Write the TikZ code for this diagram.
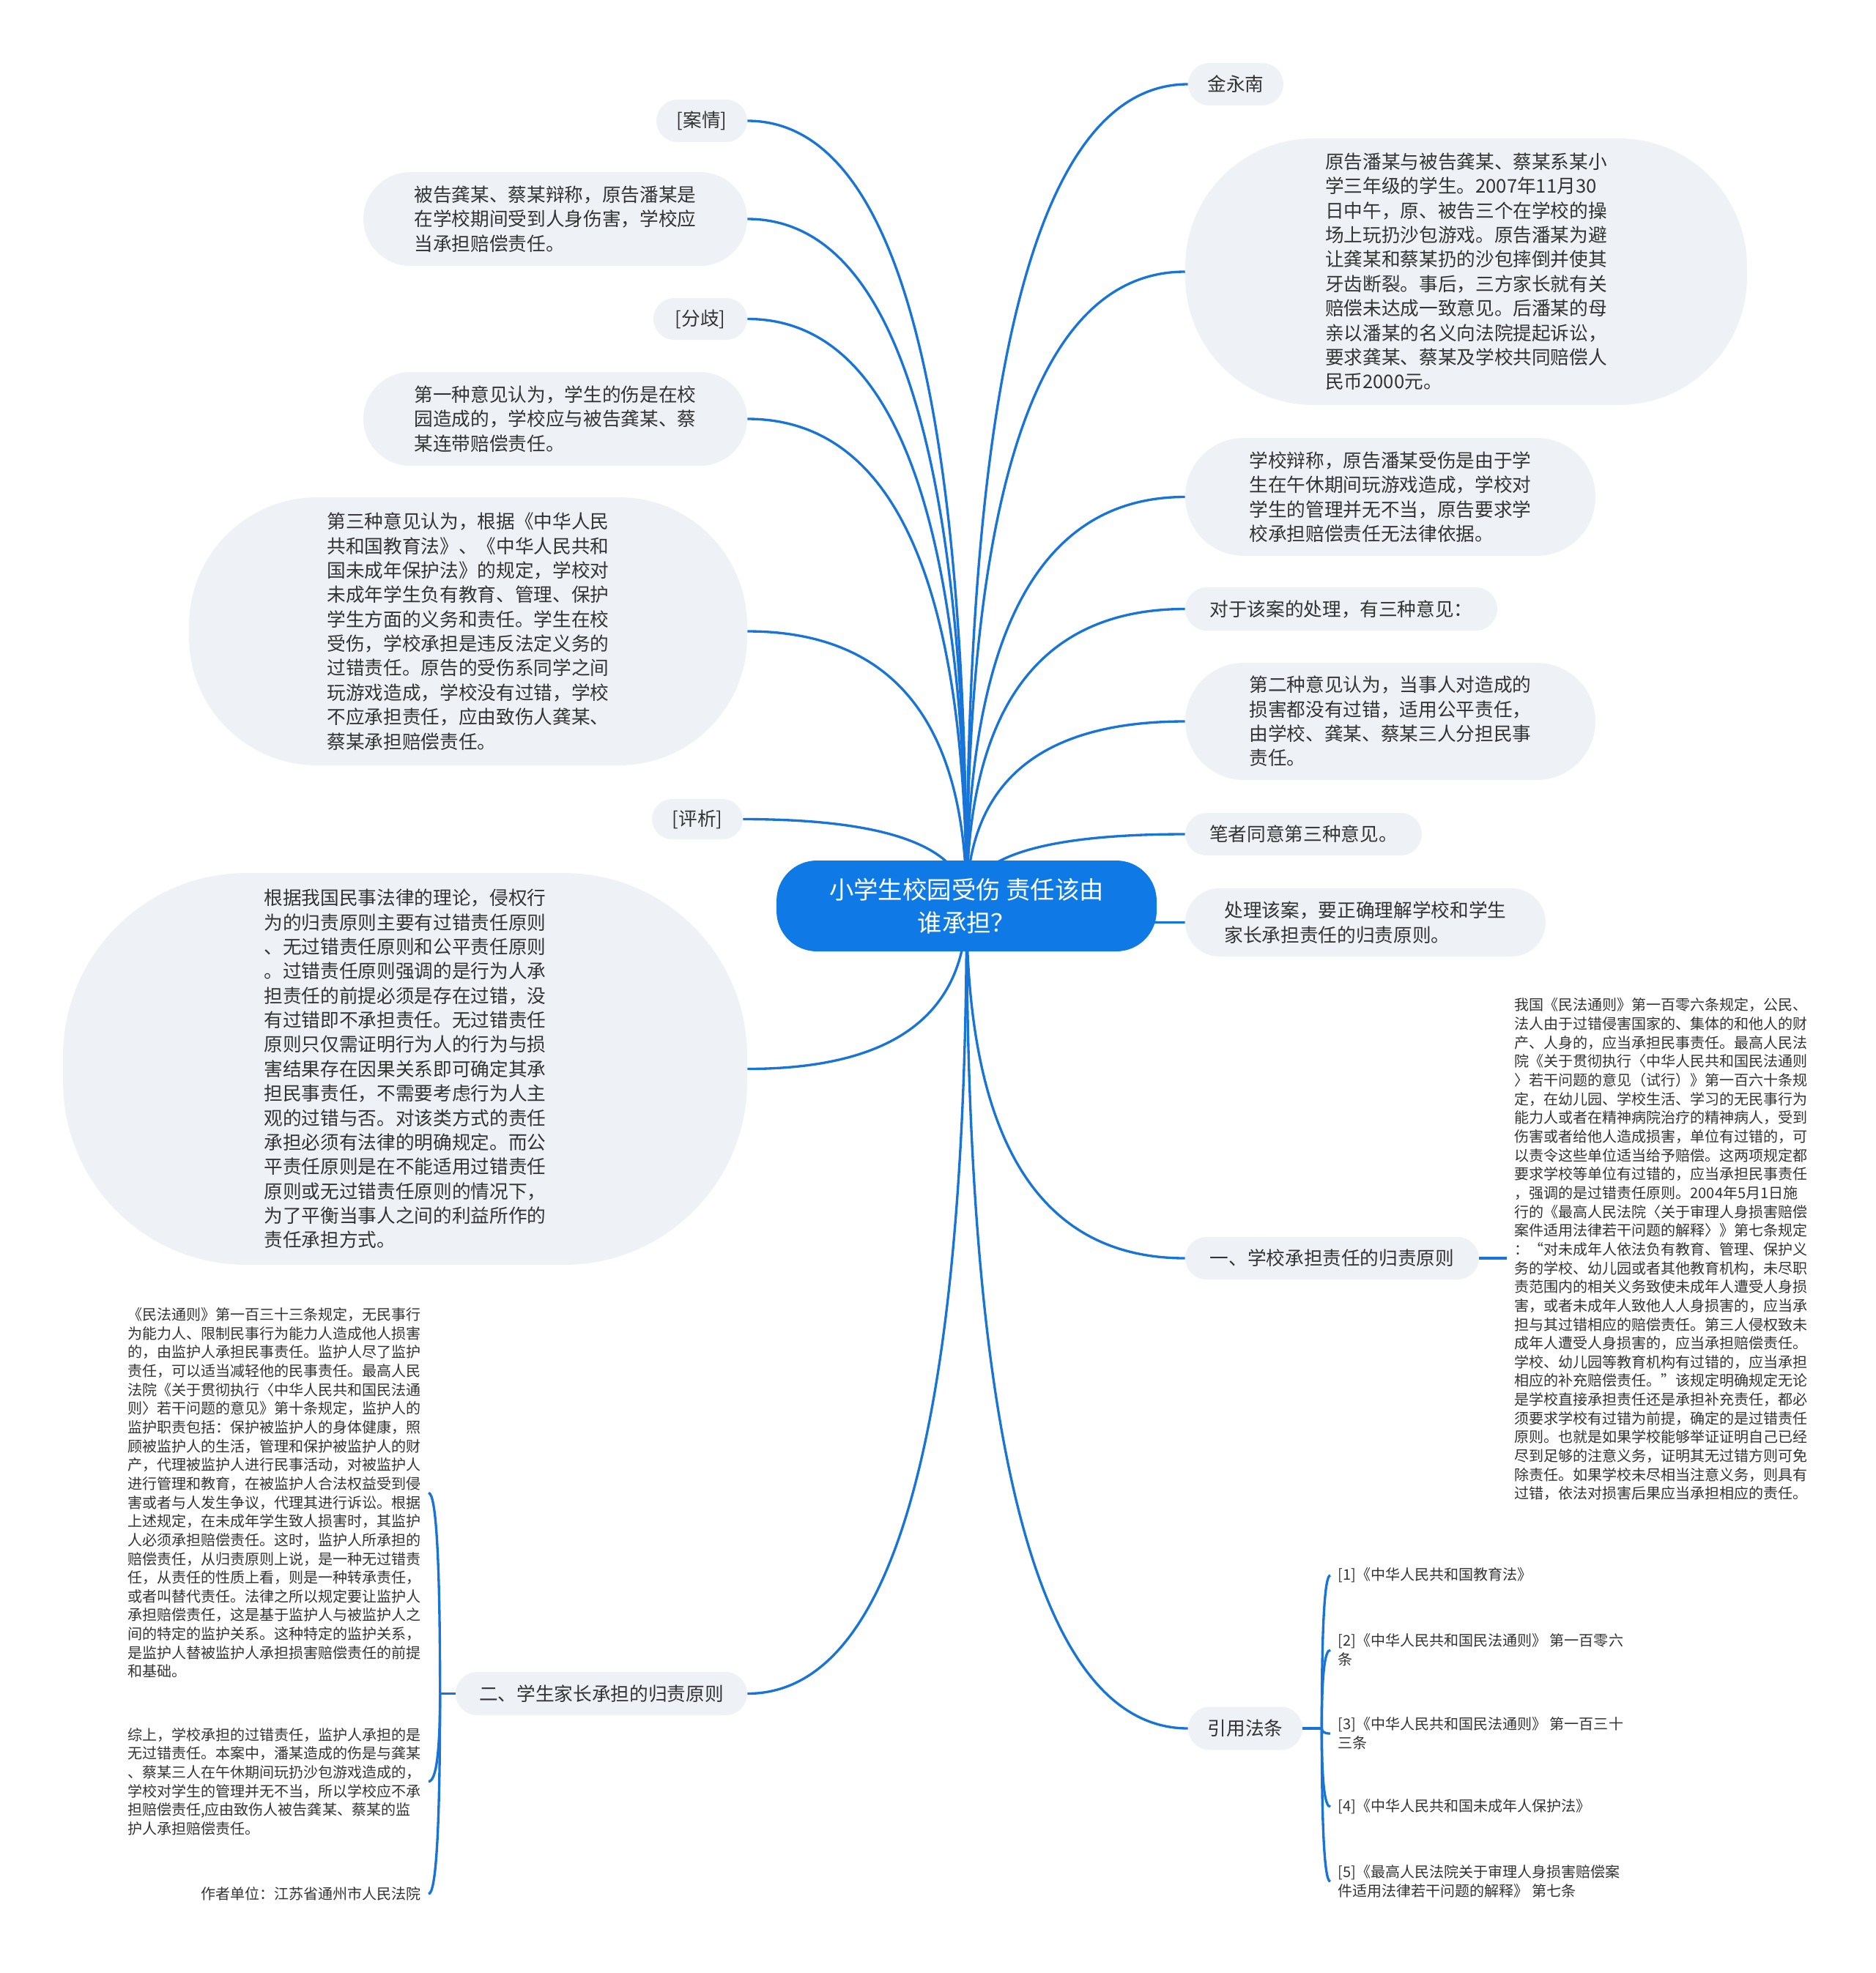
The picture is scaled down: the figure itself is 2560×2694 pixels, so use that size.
\documentclass[tikz,border=0pt]{standalone}
\usepackage{fontspec}
\setmainfont{Noto Sans CJK SC}
\usetikzlibrary{calc,backgrounds}
\definecolor{mapblue}{HTML}{0F7AE5}
\definecolor{linkblue}{HTML}{1874D6}
\definecolor{topicgray}{HTML}{EEF1F5}
\definecolor{ink}{HTML}{333333}
\tikzset{
  box/.style n args={3}{fill=topicgray, text=ink, align=left, inner sep=0pt,
    minimum width=#1, minimum height=#2, rounded corners=#3,
    font=\fontsize{14.6pt}{19pt}\selectfont},
  memo/.style={text=ink, align=left, inner ysep=0pt, inner xsep=0.2cm,
    font=\fontsize{11.4pt}{14.6pt}\selectfont},
  link/.style={draw=linkblue, line width=1.9pt},
}
% quadratic bend from #1 to #2, turning at (#1 |- #2)
\newcommand\bough[2]{\draw [link] (#1) .. controls ($(#1)!2/3!(#1 |- #2)$) and ($(#2)!2/3!(#1 |- #2)$) .. (#2);}
\begin{document}
\begin{tikzpicture}[x=0.02cm, y=-0.02cm]
	\useasboundingbox (0,0) rectangle (2560,2694);
	% central topic
	\node [box={10.38cm}{2.48cm}{1.1cm}, fill=mapblue, text=white, align=center,
	  font=\fontsize{19pt}{25.4pt}\selectfont] (c) at (1319.5,1237) {小学生校园受伤 责任该由\\谁承担？};
	% right branches
	\node [box={2.6cm}{1.16cm}{0.58cm}] (r1) at (1687,115) {金永南};
	\node [box={15.34cm}{7.28cm}{3.5cm}] (r2) at (2001.5,371) {原告潘某与被告龚某、蔡某系某小\\学三年级的学生。2007年11月30\\日中午，原、被告三个在学校的操\\场上玩扔沙包游戏。原告潘某为避\\让龚某和蔡某扔的沙包摔倒并使其\\牙齿断裂。事后，三方家长就有关\\赔偿未达成一致意见。后潘某的母\\亲以潘某的名义向法院提起诉讼，\\要求龚某、蔡某及学校共同赔偿人\\民币2000元。};
	\node [box={11.2cm}{3.22cm}{1.6cm}] (r3) at (1898,678.5) {学校辩称，原告潘某受伤是由于学\\生在午休期间玩游戏造成，学校对\\学生的管理并无不当，原告要求学\\校承担赔偿责任无法律依据。};
	\node [box={8.52cm}{1.18cm}{0.59cm}] (r4) at (1831,831.5) {对于该案的处理，有三种意见：};
	\node [box={11.2cm}{3.2cm}{1.6cm}] (r5) at (1898,985) {第二种意见认为，当事人对造成的\\损害都没有过错，适用公平责任，\\由学校、龚某、蔡某三人分担民事\\责任。};
	\node [box={6.46cm}{1.16cm}{0.58cm}] (r6) at (1779.5,1139) {笔者同意第三种意见。};
	\node [box={9.84cm}{1.86cm}{0.93cm}] (r7) at (1864,1259.5) {处理该案，要正确理解学校和学生\\家长承担责任的归责原则。};
	\node [box={8.02cm}{1.16cm}{0.58cm}] (r8) at (1818.5,1718) {一、学校承担责任的归责原则};
	\node [box={3.12cm}{1.18cm}{0.59cm}] (r9) at (1700,2360) {引用法条};
	% left branches
	\node [box={2.48cm}{1.16cm}{0.58cm}] (l1) at (958,165) {[案情]};
	\node [box={10.48cm}{2.56cm}{1.28cm}] (l2) at (758,299) {被告龚某、蔡某辩称，原告潘某是\\在学校期间受到人身伤害，学校应\\当承担赔偿责任。};
	\node [box={2.56cm}{1.14cm}{0.57cm}] (l3) at (956,435.5) {[分歧]};
	\node [box={10.48cm}{2.56cm}{1.28cm}] (l4) at (758,572) {第一种意见认为，学生的伤是在校\\园造成的，学校应与被告龚某、蔡\\某连带赔偿责任。};
	\node [box={15.24cm}{7.32cm}{3.5cm}] (l5) at (639,862) {第三种意见认为，根据《中华人民\\共和国教育法》、《中华人民共和\\国未成年保护法》的规定，学校对\\未成年学生负有教育、管理、保护\\学生方面的义务和责任。学生在校\\受伤，学校承担是违反法定义务的\\过错责任。原告的受伤系同学之间\\玩游戏造成，学校没有过错，学校\\不应承担责任，应由致伤人龚某、\\蔡某承担赔偿责任。};
	\node [box={2.48cm}{1.1cm}{0.55cm}] (l6) at (952,1118.5) {[评析]};
	\node [box={18.68cm}{10.7cm}{5cm}] (l7) at (553,1459.5) {根据我国民事法律的理论，侵权行\\为的归责原则主要有过错责任原则\\、无过错责任原则和公平责任原则\\。过错责任原则强调的是行为人承\\担责任的前提必须是存在过错，没\\有过错即不承担责任。无过错责任\\原则只仅需证明行为人的行为与损\\害结果存在因果关系即可确定其承\\担民事责任，不需要考虑行为人主\\观的过错与否。对该类方式的责任\\承担必须有法律的明确规定。而公\\平责任原则是在不能适用过错责任\\原则或无过错责任原则的情况下，\\为了平衡当事人之间的利益所作的\\责任承担方式。};
	\node [box={7.96cm}{1.18cm}{0.59cm}] (l8) at (821,2312.5) {二、学生家长承担的归责原则};
	% notes
	\node [memo, anchor=west] (t8) at (2057,1706) {我国《民法通则》第一百零六条规定，公民、\\法人由于过错侵害国家的、集体的和他人的财\\产、人身的，应当承担民事责任。最高人民法\\院《关于贯彻执行〈中华人民共和国民法通则\\〉若干问题的意见（试行）》第一百六十条规\\定，在幼儿园、学校生活、学习的无民事行为\\能力人或者在精神病院治疗的精神病人，受到\\伤害或者给他人造成损害，单位有过错的，可\\以责令这些单位适当给予赔偿。这两项规定都\\要求学校等单位有过错的，应当承担民事责任\\，强调的是过错责任原则。2004年5月1日施\\行的《最高人民法院〈关于审理人身损害赔偿\\案件适用法律若干问题的解释〉》第七条规定\\：“对未成年人依法负有教育、管理、保护义\\务的学校、幼儿园或者其他教育机构，未尽职\\责范围内的相关义务致使未成年人遭受人身损\\害，或者未成年人致他人人身损害的，应当承\\担与其过错相应的赔偿责任。第三人侵权致未\\成年人遭受人身损害的，应当承担赔偿责任。\\学校、幼儿园等教育机构有过错的，应当承担\\相应的补充赔偿责任。”该规定明确规定无论\\是学校直接承担责任还是承担补充责任，都必\\须要求学校有过错为前提，确定的是过错责任\\原则。也就是如果学校能够举证证明自己已经\\尽到足够的注意义务，证明其无过错方则可免\\除责任。如果学校未尽相当注意义务，则具有\\过错，依法对损害后果应当承担相应的责任。};
	\node [memo, anchor=west] (f1) at (1816,2151) {[1]《中华人民共和国教育法》};
	\node [memo, anchor=west] (f2) at (1816,2253) {[2]《中华人民共和国民法通则》 第一百零六\\条};
	\node [memo, anchor=west] (f3) at (1816,2367) {[3]《中华人民共和国民法通则》 第一百三十\\三条};
	\node [memo, anchor=west] (f4) at (1816,2467) {[4]《中华人民共和国未成年人保护法》};
	\node [memo, anchor=west] (f5) at (1816,2569) {[5]《最高人民法院关于审理人身损害赔偿案\\件适用法律若干问题的解释》 第七条};
	\node [memo, anchor=east] (t81) at (585,2038.5) {《民法通则》第一百三十三条规定，无民事行\\为能力人、限制民事行为能力人造成他人损害\\的，由监护人承担民事责任。监护人尽了监护\\责任，可以适当减轻他的民事责任。最高人民\\法院《关于贯彻执行〈中华人民共和国民法通\\则〉若干问题的意见》第十条规定，监护人的\\监护职责包括：保护被监护人的身体健康，照\\顾被监护人的生活，管理和保护被监护人的财\\产，代理被监护人进行民事活动，对被监护人\\进行管理和教育，在被监护人合法权益受到侵\\害或者与人发生争议，代理其进行诉讼。根据\\上述规定，在未成年学生致人损害时，其监护\\人必须承担赔偿责任。这时，监护人所承担的\\赔偿责任，从归责原则上说，是一种无过错责\\任，从责任的性质上看，则是一种转承责任，\\或者叫替代责任。法律之所以规定要让监护人\\承担赔偿责任，这是基于监护人与被监护人之\\间的特定的监护关系。这种特定的监护关系，\\是监护人替被监护人承担损害赔偿责任的前提\\和基础。};
	\node [memo, anchor=east] (t82) at (585,2432.5) {综上，学校承担的过错责任，监护人承担的是\\无过错责任。本案中，潘某造成的伤是与龚某\\、蔡某三人在午休期间玩扔沙包游戏造成的，\\学校对学生的管理并无不当，所以学校应不承\\担赔偿责任,应由致伤人被告龚某、蔡某的监\\护人承担赔偿责任。};
	\node [memo, anchor=east] (t83) at (585,2586) {作者单位：江苏省通州市人民法院};
	% connectors, behind the topics
	\begin{scope}[on background layer]
	\foreach \n in {r1,r2,r3,r4,r5,r6,r7,r8,r9}
	  {\bough{c.center}{\n.west}}
	\foreach \n in {l1,l2,l3,l4,l5,l6,l7,l8}
	  {\bough{c.center}{\n.east}}
	\draw [link] (r8.east) -- (r8.east -| t8.west);
	\coordinate (j9) at ([xshift=0.52cm]r9.east);
	\draw [link] (r9.east) -- (j9);
	\foreach \n in {f1,f2,f3,f4,f5}
	  {\bough{j9}{\n.west}}
	\coordinate (j8) at ([xshift=-0.42cm]l8.west);
	\draw [link] (l8.west) -- (j8);
	\foreach \n in {t81,t82,t83}
	  {\bough{j8}{\n.east}}
	\end{scope}
\end{tikzpicture}
\end{document}
